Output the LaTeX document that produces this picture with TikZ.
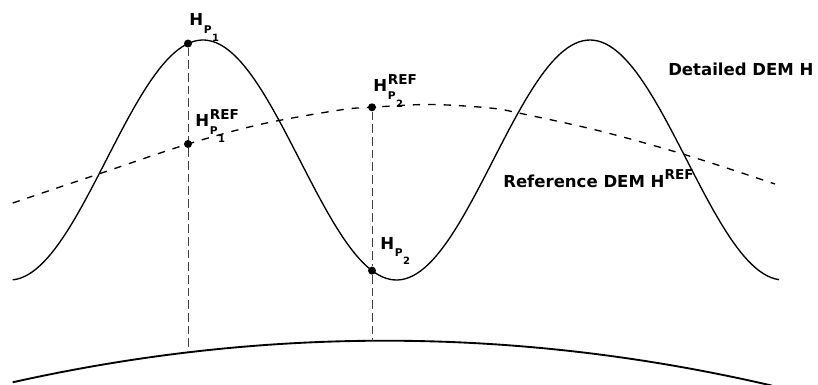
\documentclass[tikz,border=0pt]{standalone}
\usepackage{fontspec}
\setmainfont{DejaVu Sans}
\newcommand\Hlab[3]{\bfseries H\kern0.6pt\makebox[0pt][l]{\raisebox{5.5pt}{\fontsize{10.2}{11}\selectfont #1}}%
\raisebox{-5.5pt}{\fontsize{8}{9}\selectfont #2\kern0.3pt\raisebox{-6pt}{\fontsize{7.5}{8}\selectfont #3}}}
\begin{document}
\begin{tikzpicture}[x=0.75pt,y=-0.75pt,
  dot/.style={circle,fill=black,inner sep=0pt,minimum size=6pt},
  lab/.style={anchor=base west,inner sep=0pt,font=\fontsize{12.4}{14}\selectfont\bfseries},
  vline/.style={draw=black!75,line width=0.55pt,dash pattern=on 6.5pt off 3pt},
  refcurve/.style={line width=1pt,dash pattern=on 5.5pt off 6pt},
  detcurve/.style={line width=1pt},
  ground/.style={line width=1.4pt}]
\useasboundingbox (0,0) rectangle (818,385);
% detailed DEM
\draw[detcurve] plot[domain=12.7:779,samples=200] (\x,{160-120*cos(0.930233*(\x-203))});
% reference DEM
\draw[refcurve] plot[smooth,tension=0.55] coordinates {(12.7,203) (103,172.5) (188,144) (262,124) (340,110) (372,107.3) (430,104.5) (490,108) (521,113.5) (600,131) (686,155) (775,184)};
% ground arc
\draw[ground] plot[domain=12.7:772,samples=100] (\x,{340.7+(0.017321*(\x-385))^2});
% points
\coordinate (b1) at (188,{340.7+(0.017321*(188-385))^2});
\coordinate (b2) at (372,{340.7+(0.017321*(372-385))^2});
\node[dot] (p1) at (188,{160-120*cos(0.930233*(188-203))}) {};
\node[dot] (r1) at (188,144) {};
\node[dot] (r2) at (372,107.3) {};
\node[dot] (p2) at (372,{160-120*cos(0.930233*(372-203))}) {};
\draw[vline] (p1) -- (r1);
\draw[vline] (r1) -- (b1);
\draw[vline] (r2) -- (p2);
\draw[vline] (p2) -- (b2);
% labels
\node[lab] (lp1) at (189,26) {\Hlab{}{P}{1}};
\node[lab] (lr1) at (195,127) {\Hlab{REF}{P}{1}};
\node[lab] (lr2) at (373,92) {\Hlab{REF}{P}{2}};
\node[lab] (lp2) at (380,249) {\Hlab{}{P}{2}};
\node[lab] (ldet) at (668,76) {Detailed DEM H};
\node[lab] (lref) at (503,187) {Reference DEM H\raisebox{6pt}{\fontsize{10.2}{11}\selectfont REF}};
\end{tikzpicture}
\end{document}
